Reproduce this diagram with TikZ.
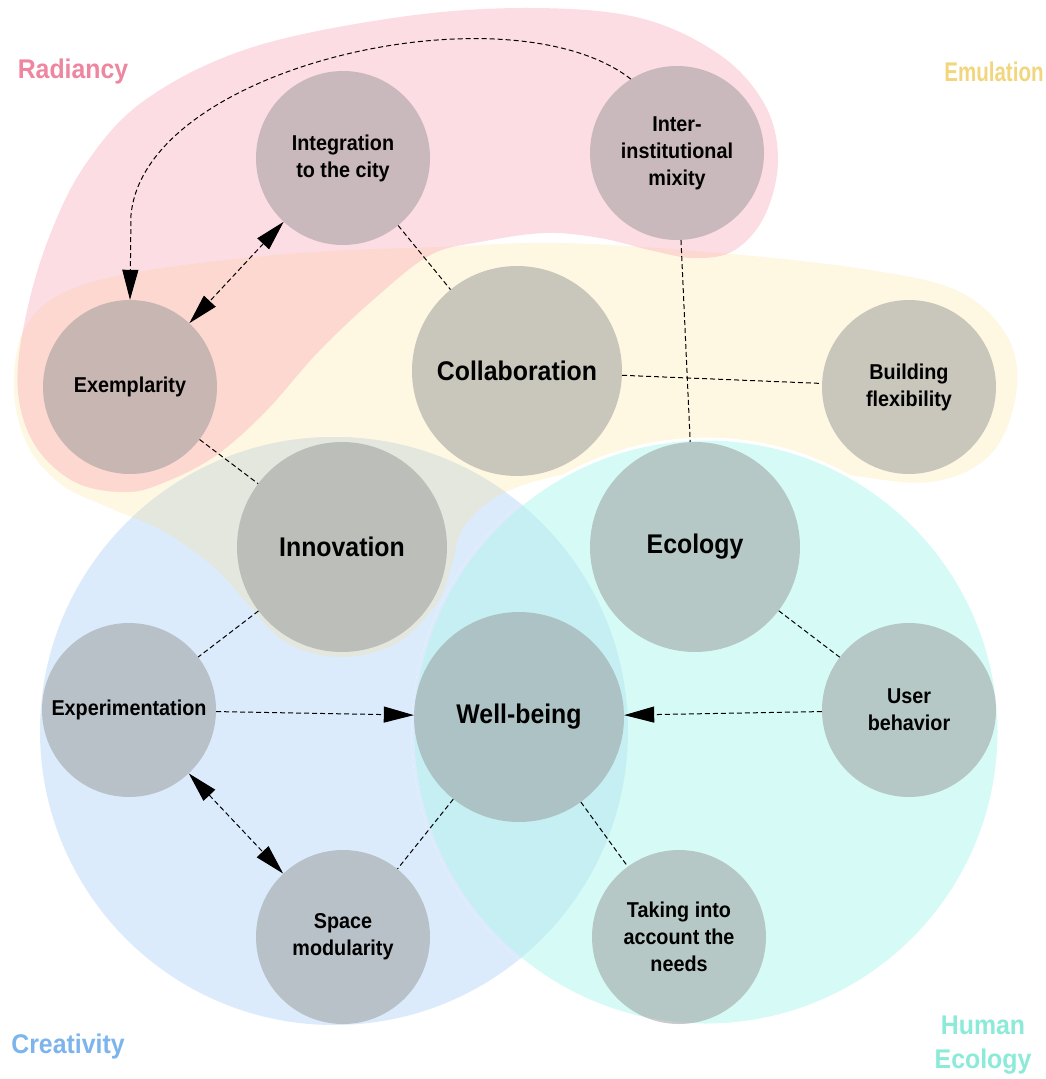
\documentclass[tikz,border=0pt]{standalone}
\usepackage{fontspec}
\usepackage{tikz}
\usetikzlibrary{arrows.meta}
\newfontfamily\nodefont{Liberation Sans}[FakeStretch=0.92]
\newfontfamily\narrowfont{Liberation Sans}[FakeStretch=0.76]

\definecolor{emulationbg}{RGB}{254,247,225}
\definecolor{radiancybg}{RGB}{253,221,228}
\definecolor{creativitybg}{RGB}{220,235,251}
\definecolor{humanbg}{RGB}{214,251,246}
\definecolor{overlapbeige}{RGB}{228,231,222}
\definecolor{overlapsalmon}{RGB}{252,216,208}
\definecolor{overlaplens}{RGB}{198,239,243}
\definecolor{radiancytext}{RGB}{238,134,160}
\definecolor{emulationtext}{RGB}{242,214,125}
\definecolor{creativitytext}{RGB}{125,180,236}
\definecolor{humantext}{RGB}{140,234,216}

\newcommand{\emulationshape}{plot[smooth cycle, tension=0.6] coordinates {(560,243) (720,253) (870,270) (960,292) (1008,338) (1016,395) (990,455) (930,482) (840,474) (720,460) (600,468) (510,490) (465,525) (452,565) (437,603) (397,643) (342,657) (287,643) (247,603) (215,568) (165,532) (110,508) (62,485) (28,446) (14,390) (24,330) (65,292) (150,270) (300,253) (440,247)}}
\newcommand{\radiancyshape}{plot[smooth cycle, tension=0.6] coordinates {(530,8) (640,18) (720,55) (765,105) (778,160) (765,215) (735,250) (695,258) (650,250) (600,238) (545,233) (480,242) (430,255) (375,298) (318,352) (265,412) (215,456) (165,482) (126,492) (75,482) (35,445) (18,390) (25,320) (48,240) (85,165) (145,100) (250,48) (400,17)}}
\newcommand{\creativityshape}{(334,731) circle (294)}
\newcommand{\humanshape}{(706,732) circle (293)}

\tikzset{
  bubble/.style={circle, inner sep=0pt, align=center, fill={rgb, 255:red, 150; green, 150; blue, 150}, fill opacity=0.5, text opacity=1},
  bignode/.style={bubble, minimum size=210pt, font=\nodefont\bfseries\fontsize{27}{32}\selectfont},
  smallnode/.style={bubble, minimum size=174pt, font=\nodefont\bfseries\fontsize{21.5}{27}\selectfont},
  catlabel/.style={inner sep=0pt, align=center, font=\nodefont\bfseries\fontsize{27}{34}\selectfont},
  link/.style={draw=black, line width=1pt, dash pattern=on 5pt off 3pt},
  arrowlink/.style={link, -{Triangle[length=30pt,width=16pt]}},
  bothlink/.style={link, {Triangle[length=30pt,width=16pt]}-{Triangle[length=30pt,width=16pt]}}
}

\begin{document}
\begin{tikzpicture}[x=1pt,y=1pt,yscale=-1,xscale=1]
\useasboundingbox (0,0) rectangle (1046,1079);
\fill[white] (0,0) rectangle (1046,1079);

%Shape: Blob [Emulation]
\fill[emulationbg] \emulationshape;
%Shape: Circle [Creativity]
\fill[creativitybg] \creativityshape;
\begin{scope}
\clip \creativityshape;
\fill[overlapbeige] \emulationshape;
\end{scope}
%Shape: Blob [Radiancy]
\fill[radiancybg] \radiancyshape;
\begin{scope}
\clip \radiancyshape;
\fill[overlapsalmon] \emulationshape;
\end{scope}
%Shape: Circle [Human Ecology]
\filldraw[fill=humanbg, draw=white, line width=3pt] \humanshape;
\begin{scope}
\clip \creativityshape;
\filldraw[fill=overlaplens, draw=creativitybg, line width=3pt] \humanshape;
\end{scope}

% Circle Nodes
\node[smallnode] (integration) at (343,158) {Integration\\to the city};
\node[smallnode] (mixity) at (677,153) {Inter-\\institutional\\mixity};
\node[smallnode] (exemplarity) at (130,387) {Exemplarity};
\node[bignode] (collaboration) at (517,371) {Collaboration};
\node[smallnode] (flexibility) at (909,387) {Building\\flexibility};
\node[bignode] (innovation) at (342,547) {Innovation};
\node[bignode] (ecology) at (695,547) {Ecology};
\node[smallnode] (experimentation) at (129,710) {Experimentation};
\node[bignode] (wellbeing) at (519,717) {Well-being};
\node[smallnode] (behavior) at (909,710) {User\\behavior};
\node[smallnode] (modularity) at (343,937) {Space\\modularity};
\node[smallnode] (needs) at (679,937) {Taking into\\account the\\needs};

%Straight Lines
\draw[link] (integration) -- (collaboration);
\draw[link] (mixity) -- (ecology);
\draw[link] (collaboration) -- (flexibility);
\draw[link] (exemplarity) -- (innovation);
\draw[link] (innovation) -- (experimentation);
\draw[link] (ecology) -- (behavior);
\draw[link] (wellbeing) -- (modularity);
\draw[link] (wellbeing) -- (needs);
\draw[arrowlink] (experimentation) -- (wellbeing);
\draw[arrowlink] (behavior) -- (wellbeing);
\draw[bothlink] (integration) -- (exemplarity);
\draw[bothlink] (experimentation) -- (modularity);
%Curve Lines
\coordinate (bend) at (131,215);
\draw[arrowlink] (mixity.122) .. controls (510,-15) and (145,65) .. (bend) -- (exemplarity.north);

% Text Node
\node[catlabel, text=radiancytext] (radiancy) at (73,72) {Radiancy};
% Text Node
\node[catlabel, text=emulationtext, font=\narrowfont\bfseries\fontsize{27}{34}\selectfont] (emulation) at (994,72) {Emulation};
% Text Node
\node[catlabel, text=creativitytext] (creativity) at (68,1047) {Creativity};
% Text Node
\node[catlabel, text=humantext] (humaneco) at (983,1045) {Human\\Ecology};

\end{tikzpicture}
\end{document}
